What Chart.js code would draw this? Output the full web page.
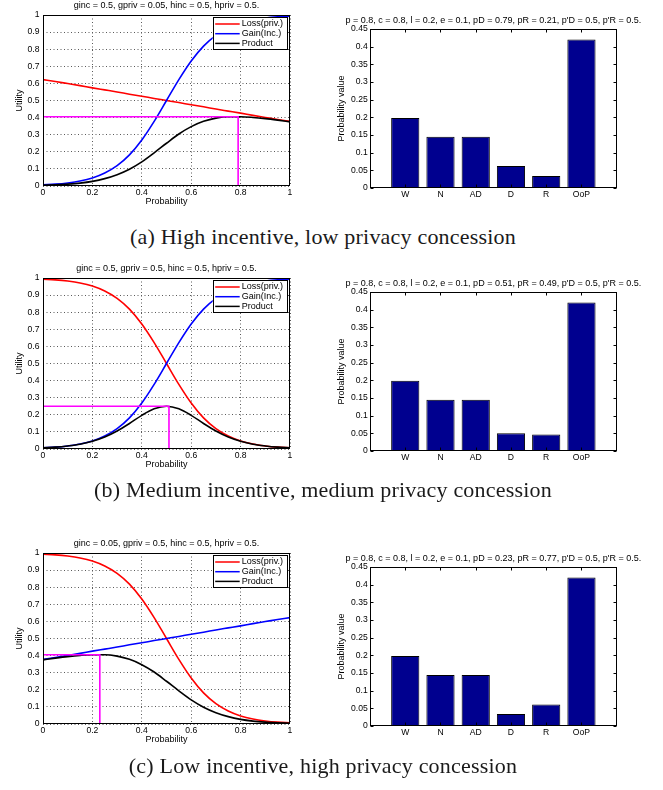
<!DOCTYPE html>
<html>
<head>
<meta charset="utf-8">
<script src="https://cdn.jsdelivr.net/npm/chart.js@4.4.1/dist/chart.umd.min.js"></script>
<style>
  body { margin: 0; background: #fff; width: 663px; height: 790px; position: relative; overflow: hidden; }
  canvas { position: absolute; }
  .cap { position: absolute; left: 0; width: 646px; height: 26px; line-height: 26px; text-align: center;
         font-family: "Liberation Serif", "Times New Roman", serif; font-size: 22px; letter-spacing: 0.2px; color: #1a1a1a; white-space: nowrap; }
</style>
</head>
<body>
<canvas id="uA" width="300" height="214" style="left:0;top:0"></canvas>
<canvas id="bA" width="343" height="202" style="left:320px;top:14.3px"></canvas>
<div class="cap" style="top:224px">(a) High incentive, low privacy concession</div>
<canvas id="uB" width="300" height="214" style="left:0;top:262.7px"></canvas>
<canvas id="bB" width="343" height="202" style="left:320px;top:276.7px"></canvas>
<div class="cap" style="top:477px">(b) Medium incentive, medium privacy concession</div>
<canvas id="uC" width="300" height="214" style="left:0;top:538.3px"></canvas>
<canvas id="bC" width="343" height="202" style="left:320px;top:551.7px"></canvas>
<div class="cap" style="top:753px">(c) Low incentive, high privacy concession</div>

<script>
// probabilità sull'asse x delle curve di utilità
const probs = [0, 0.05, 0.1, 0.15, 0.2, 0.25, 0.3, 0.35, 0.4, 0.45, 0.5, 0.55, 0.6, 0.65, 0.7, 0.75, 0.8, 0.85, 0.9, 0.95, 1];

// (a) ginc = 0.5, gpriv = 0.05
const lossA = [0.622, 0.611, 0.599, 0.587, 0.574, 0.562, 0.550, 0.537, 0.525, 0.512, 0.500, 0.488, 0.475, 0.463, 0.450, 0.438, 0.426, 0.413, 0.401, 0.389, 0.378];
const gainA = [0.007, 0.011, 0.018, 0.029, 0.047, 0.076, 0.119, 0.182, 0.269, 0.378, 0.500, 0.622, 0.731, 0.818, 0.881, 0.924, 0.953, 0.971, 0.982, 0.989, 0.993];
const prodA = [0.004, 0.007, 0.011, 0.017, 0.027, 0.043, 0.066, 0.098, 0.141, 0.194, 0.250, 0.304, 0.347, 0.378, 0.397, 0.405, 0.405, 0.401, 0.394, 0.385, 0.375];

// (b) ginc = 0.5, gpriv = 0.5
const lossB = [0.993, 0.989, 0.982, 0.971, 0.953, 0.924, 0.881, 0.818, 0.731, 0.622, 0.500, 0.378, 0.269, 0.182, 0.119, 0.076, 0.047, 0.029, 0.018, 0.011, 0.007];
const gainB = [0.007, 0.011, 0.018, 0.029, 0.047, 0.076, 0.119, 0.182, 0.269, 0.378, 0.500, 0.622, 0.731, 0.818, 0.881, 0.924, 0.953, 0.971, 0.982, 0.989, 0.993];
const prodB = [0.007, 0.011, 0.018, 0.028, 0.045, 0.070, 0.105, 0.149, 0.197, 0.235, 0.250, 0.235, 0.197, 0.149, 0.105, 0.070, 0.045, 0.028, 0.018, 0.011, 0.007];

// (c) ginc = 0.05, gpriv = 0.5
const lossC = [0.993, 0.989, 0.982, 0.971, 0.953, 0.924, 0.881, 0.818, 0.731, 0.622, 0.500, 0.378, 0.269, 0.182, 0.119, 0.076, 0.047, 0.029, 0.018, 0.011, 0.007];
const gainC = [0.378, 0.389, 0.401, 0.413, 0.426, 0.438, 0.450, 0.463, 0.475, 0.488, 0.500, 0.512, 0.525, 0.537, 0.550, 0.562, 0.574, 0.587, 0.599, 0.611, 0.622];
const prodC = [0.375, 0.385, 0.394, 0.401, 0.405, 0.405, 0.397, 0.378, 0.347, 0.304, 0.250, 0.194, 0.141, 0.098, 0.066, 0.043, 0.027, 0.017, 0.011, 0.007, 0.004];

// massimo del prodotto (linee magenta)
const optX = [0.79, 0.51, 0.23];
const optY = [0.405, 0.25, 0.405];

// istogrammi
const outcomes = ['W', 'N', 'AD', 'D', 'R', 'OoP'];
const barsA = [0.198, 0.145, 0.145, 0.062, 0.034, 0.420];
const barsB = [0.199, 0.145, 0.145, 0.050, 0.047, 0.420];
const barsC = [0.198, 0.144, 0.144, 0.034, 0.061, 0.420];

// tacche
const probTicks = [0, 0.2, 0.4, 0.6, 0.8, 1];
const utilTicks = [0, 0.1, 0.2, 0.3, 0.4, 0.5, 0.6, 0.7, 0.8, 0.9, 1];
const pvalTicks = [0, 0.05, 0.1, 0.15, 0.2, 0.25, 0.3, 0.35, 0.4, 0.45];

const leftTitles = [
  'ginc = 0.5, gpriv = 0.05, hinc = 0.5, hpriv = 0.5.',
  'ginc = 0.5, gpriv = 0.5, hinc = 0.5, hpriv = 0.5.',
  'ginc = 0.05, gpriv = 0.5, hinc = 0.5, hpriv = 0.5.',
];
const rightTitles = [
  "p = 0.8, c = 0.8, l = 0.2, e = 0.1, pD = 0.79, pR = 0.21, p'D = 0.5, p'R = 0.5.",
  "p = 0.8, c = 0.8, l = 0.2, e = 0.1, pD = 0.51, pR = 0.49, p'D = 0.5, p'R = 0.5.",
  "p = 0.8, c = 0.8, l = 0.2, e = 0.1, pD = 0.23, pR = 0.77, p'D = 0.5, p'R = 0.5.",
];

const SANS = '"Liberation Sans", Arial, sans-serif';
Chart.defaults.font.family = SANS;
Chart.defaults.font.size = 8.6;
Chart.defaults.color = '#000';

// cornice, titoli, etichette assi, legenda interna (stile MATLAB)
const deco = {
  id: 'deco',
  afterDraw(chart, args, o) {
    const { ctx, chartArea: a } = chart;
    const L = Math.round(a.left) + 0.5, T = Math.round(a.top) + 0.5;
    const R = Math.round(a.right) - 0.5, B = Math.round(a.bottom) - 0.5;
    ctx.save();
    ctx.strokeStyle = '#000';
    ctx.lineWidth = 1;
    ctx.strokeRect(L, T, R - L, B - T);
    if (o.inTicks) {
      const xs = chart.scales.x, ys = chart.scales.y;
      ctx.beginPath();
      ys.ticks.forEach((t) => {
        const y = Math.round(ys.getPixelForValue(t.value)) + 0.5;
        ctx.moveTo(L, y); ctx.lineTo(L + 3, y);
        ctx.moveTo(R, y); ctx.lineTo(R - 3, y);
      });
      xs.ticks.forEach((t) => {
        const x = Math.round(xs.getPixelForValue(t.value)) + 0.5;
        ctx.moveTo(x, T); ctx.lineTo(x, T + 3);
        ctx.moveTo(x, B); ctx.lineTo(x, B - 3);
      });
      ctx.stroke();
    }
    ctx.fillStyle = '#000';
    ctx.font = '9px ' + SANS;
    ctx.textAlign = 'center';
    ctx.textBaseline = 'middle';
    ctx.fillText(o.title, (a.left + a.right) / 2, a.top - o.titleGap);
    if (o.xlabel) ctx.fillText(o.xlabel, (a.left + a.right) / 2, a.bottom + 16);
    ctx.save();
    ctx.translate(o.ylabelX, (a.top + a.bottom) / 2);
    ctx.rotate(-Math.PI / 2);
    ctx.fillText(o.ylabel, 0, 0);
    ctx.restore();

    if (o.legend) {
      const items = chart.data.datasets.filter((d) => d.label);
      const bx = a.right - 77.3, by = a.top + 2.3, bw = 74.3, bh = 32;
      ctx.fillStyle = '#fff';
      ctx.fillRect(bx, by, bw, bh);
      ctx.strokeRect(Math.round(bx) + 0.5, Math.round(by) + 0.5, Math.round(bw), Math.round(bh));
      ctx.textAlign = 'left';
      items.forEach((d, i) => {
        const y = by + 6.7 + i * 9.7;
        ctx.strokeStyle = d.borderColor;
        ctx.lineWidth = 1.5;
        ctx.beginPath(); ctx.moveTo(bx + 2.5, y); ctx.lineTo(bx + 27, y); ctx.stroke();
        ctx.fillStyle = '#000';
        ctx.fillText(d.label, bx + 29, y);
      });
    }
    ctx.restore();
  },
};
Chart.register(deco);

const setTicks = (vals) => (s) => { s.ticks = vals.map((v) => ({ value: v })); };

function utilityChart(id, loss, gain, prod, k) {
  const pts = (ys) => probs.map((x, i) => ({ x, y: ys[i] }));
  const gridOpts = { color: '#5a5a5a', lineWidth: 1, drawTicks: false };
  const border = { display: false, dash: [1, 2.5] };
  new Chart(document.getElementById(id), {
    type: 'line',
    data: {
      datasets: [
        { label: 'Loss(priv.)', data: pts(loss), borderColor: '#ff0000', order: 3 },
        { label: 'Gain(Inc.)', data: pts(gain), borderColor: '#0000ff', order: 2 },
        { label: 'Product', data: pts(prod), borderColor: '#000000', order: 1 },
        {
          data: [{ x: 0, y: optY[k] }, { x: optX[k], y: optY[k] }, { x: optX[k], y: 0 }],
          borderColor: '#ff00ff', order: 0, cubicInterpolationMode: 'default', tension: 0,
        },
      ],
    },
    options: {
      responsive: false, animation: false, events: [],
      layout: { padding: { top: 15, right: 10, left: 0, bottom: 0 } },
      elements: {
        line: { borderWidth: 1.6, cubicInterpolationMode: 'monotone', fill: false },
        point: { radius: 0 },
      },
      plugins: {
        legend: { display: false }, tooltip: { enabled: false },
        deco: { title: leftTitles[k], titleGap: 9, xlabel: 'Probability', ylabel: 'Utility', ylabelX: 20, legend: true },
      },
      scales: {
        x: {
          type: 'linear', min: 0, max: 1,
          afterBuildTicks: setTicks(probTicks),
          afterFit: (s) => { s.height = 28; },
          ticks: { callback: (v) => String(v), padding: 1, maxRotation: 0, autoSkip: false },
          grid: gridOpts, border,
        },
        y: {
          type: 'linear', min: 0, max: 1,
          afterBuildTicks: setTicks(utilTicks),
          afterFit: (s) => { s.width = 43; },
          ticks: { callback: (v) => String(v), padding: 3.5, autoSkip: false },
          grid: gridOpts, border,
        },
      },
    },
  });
}

function barChart(id, vals, k) {
  new Chart(document.getElementById(id), {
    type: 'bar',
    data: {
      datasets: [{
        data: outcomes.map((c, i) => ({ x: i + 1, y: vals[i] })),
        backgroundColor: '#00008f', borderColor: '#000', borderWidth: 1,
        barPercentage: 0.8, categoryPercentage: 1,
      }],
    },
    options: {
      responsive: false, animation: false, events: [],
      layout: { padding: { top: 15, right: 46.3, left: 0, bottom: 0 } },
      plugins: {
        legend: { display: false }, tooltip: { enabled: false },
        deco: { title: rightTitles[k], titleGap: 8, ylabel: 'Probability value', ylabelX: 21.7, inTicks: true },
      },
      scales: {
        x: {
          type: 'linear', min: 0, max: 7, offset: false,
          afterBuildTicks: setTicks([1, 2, 3, 4, 5, 6]),
          afterFit: (s) => { s.height = 28; },
          ticks: { callback: (v) => outcomes[v - 1], padding: 1, maxRotation: 0, autoSkip: false },
          grid: { display: false, drawTicks: false, offset: false }, border: { display: false },
        },
        y: {
          type: 'linear', min: 0, max: 0.45,
          afterBuildTicks: setTicks(pvalTicks),
          afterFit: (s) => { s.width = 50; },
          ticks: { callback: (v) => String(v), padding: 2.3, autoSkip: false },
          grid: { display: false, drawTicks: false }, border: { display: false },
        },
      },
    },
  });
}

utilityChart('uA', lossA, gainA, prodA, 0);
utilityChart('uB', lossB, gainB, prodB, 1);
utilityChart('uC', lossC, gainC, prodC, 2);
barChart('bA', barsA, 0);
barChart('bB', barsB, 1);
barChart('bC', barsC, 2);
</script>
</body>
</html>
